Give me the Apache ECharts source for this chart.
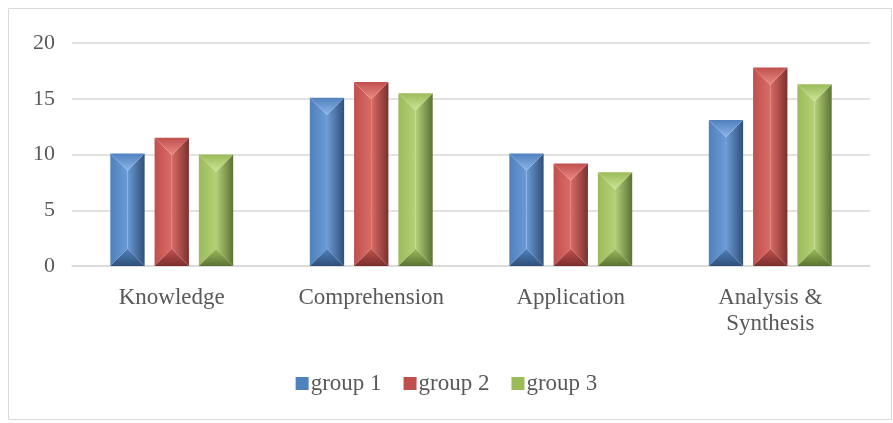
<!DOCTYPE html>
<html>
<head>
<meta charset="utf-8">
<script src="https://cdn.jsdelivr.net/npm/echarts@6/dist/echarts.min.js"></script>
<style>
  html, body { margin: 0; padding: 0; background: #fff; }
  #chart { width: 893px; height: 423px; }
</style>
</head>
<body>
<div id="chart"></div>
<script>
var myChart = echarts.init(document.getElementById('chart'));

// data
var categories = ['Knowledge', 'Comprehension', 'Application', 'Analysis &\nSynthesis'];
var group1 = [10.1, 15.1, 10.1, 13.1];
var group2 = [11.5, 16.5, 9.2, 17.8];
var group3 = [10.0, 15.5, 8.4, 16.3];
var seriesNames = ['group 1', 'group 2', 'group 3'];

// base, light, dark shades for the bevelled bars
var palette = [
  { base: '#4F81BD', light: '#8DB4E8', mid: '#6C9BD6', dark: '#2F5079' },
  { base: '#C0504D', light: '#EB8A85', mid: '#DA6C67', dark: '#7B302E' },
  { base: '#9BBB59', light: '#CDE597', mid: '#B5D178', dark: '#5C7233' }
];

function bevelBar(si) {
  return function (params, api) {
    var c = palette[si];
    var base = api.coord([api.value(0), 0]);
    var top = api.coord([api.value(0), api.value(1)]);
    var catW = api.size([1, 0])[0];
    var w = catW * 0.172;
    var gap = catW * 0.05;
    var x = base[0] + (si - 1) * (w + gap) - w / 2;
    var y = top[1];
    var h = base[1] - top[1];
    var d = Math.min(w / 2, h / 2);
    var cx = x + w / 2;
    return {
      type: 'group',
      children: [
        {
          type: 'polygon',
          shape: { points: [[x, y], [cx, y + d], [cx, y + h - d], [x, y + h]] },
          style: { fill: new echarts.graphic.LinearGradient(0, 0, 1, 0, [
            { offset: 0, color: c.base }, { offset: 1, color: c.mid }]) }
        },
        {
          type: 'polygon',
          shape: { points: [[x + w, y], [cx, y + d], [cx, y + h - d], [x + w, y + h]] },
          style: { fill: new echarts.graphic.LinearGradient(0, 0, 1, 0, [
            { offset: 0, color: c.mid }, { offset: 1, color: c.dark }]) }
        },
        {
          type: 'polygon',
          shape: { points: [[x, y], [x + w, y], [cx, y + d]] },
          style: { fill: new echarts.graphic.LinearGradient(0, 0, 0, 1, [
            { offset: 0, color: c.base }, { offset: 1, color: c.light }]) }
        },
        {
          type: 'polygon',
          shape: { points: [[x, y + h], [x + w, y + h], [cx, y + h - d]] },
          style: { fill: new echarts.graphic.LinearGradient(0, 0, 0, 1, [
            { offset: 0, color: c.base }, { offset: 1, color: c.dark }]) }
        }
      ]
    };
  };
}

var allData = [group1, group2, group3];

option = {
  animation: false,
  textStyle: { fontFamily: 'Liberation Serif' },
  graphic: [{
    type: 'rect',
    shape: { x: 8.5, y: 8.5, width: 883, height: 411 },
    style: { fill: 'none', stroke: '#d9d9d9', lineWidth: 1 },
    silent: true
  }],
  legend: {
    data: seriesNames.map(function (n, i) {
      return { name: n, itemStyle: { color: palette[i].base } };
    }),
    top: 367,
    left: 'center',
    icon: 'rect',
    itemWidth: 13,
    itemHeight: 13,
    itemGap: 22,
    textStyle: { fontFamily: 'Liberation Serif', fontSize: 23, color: '#595959', padding: [0, 0, 0, -3] }
  },
  grid: { left: 72, right: 23, top: 43, bottom: 157, containLabel: false },
  xAxis: {
    type: 'category',
    data: categories,
    axisLine: { lineStyle: { color: '#d9d9d9', width: 1.5 } },
    axisTick: { show: false },
    axisLabel: {
      fontFamily: 'Liberation Serif', fontSize: 23, color: '#595959',
      margin: 19, lineHeight: 26, interval: 0
    }
  },
  yAxis: {
    type: 'value',
    min: 0, max: 20, interval: 5,
    axisLine: { show: false },
    axisTick: { show: false },
    splitLine: { lineStyle: { color: '#d9d9d9', width: 1.5 } },
    axisLabel: { fontFamily: 'Liberation Serif', fontSize: 22, color: '#595959', margin: 17 }
  },
  series: seriesNames.map(function (n, si) {
    return {
      name: n,
      type: 'custom',
      renderItem: bevelBar(si),
      itemStyle: { color: palette[si].base },
      encode: { x: 0, y: 1 },
      data: allData[si].map(function (v, i) { return [i, v]; })
    };
  })
};

myChart.setOption(option);
</script>
</body>
</html>
